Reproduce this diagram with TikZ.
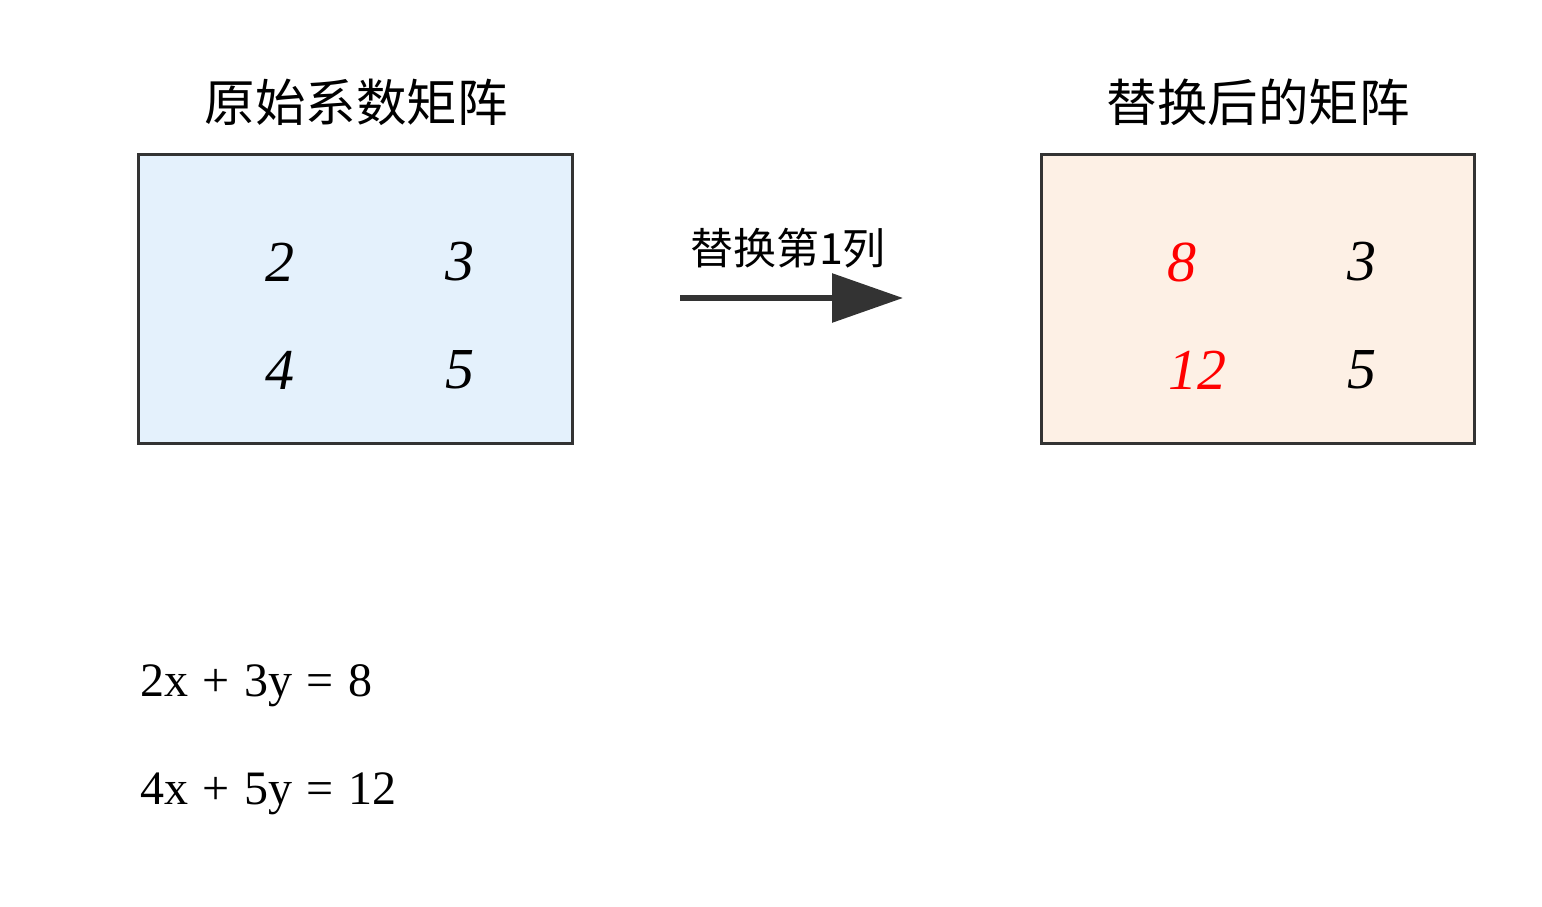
\documentclass[tikz,border=0pt]{standalone}
\usepackage{fontspec}
\setmainfont{Liberation Serif}
\newfontfamily\cjk{Noto Sans CJK SC}
\usetikzlibrary{arrows.meta}
\definecolor{bordergray}{HTML}{333333}
\definecolor{lightblue}{HTML}{E4F1FC}
\definecolor{lightpeach}{HTML}{FDF0E5}
\definecolor{redtext}{HTML}{FF0000}
\newcommand{\eqspacing}{\spaceskip=14.5pt\relax}
\tikzset{
  matbox/.style={draw=bordergray, line width=3pt, inner sep=0pt},
  numtxt/.style={font=\fontsize{58}{60}\selectfont\itshape, inner sep=0pt, anchor=center},
  titletxt/.style={font=\cjk\fontsize{50.5}{52}\selectfont, inner sep=0pt, anchor=center},
  lbltxt/.style={font=\cjk\fontsize{43}{44}\selectfont, inner sep=0pt, anchor=center},
  eqtxt/.style={font=\fontsize{48}{50}\selectfont, inner sep=0pt, anchor=base west},
  bigarrow/.style={draw=bordergray, line width=6pt, -{Triangle[length=71pt,width=48pt]}}
}
\begin{document}
\begin{tikzpicture}[x=1pt,y=-1pt]
\useasboundingbox (0,0) rectangle (1542,907);
% boxes
\node[matbox, fill=lightblue, minimum width=434pt, minimum height=289pt] (left) at (355,298.5) {};
\node[matbox, fill=lightpeach, minimum width=433pt, minimum height=289pt] (right) at (1257.5,298.5) {};
% titles
\node[titletxt] (ltitle) at (356,102) {原始系数矩阵};
\node[titletxt] (rtitle) at (1258,102) {替换后的矩阵};
% left numbers
\node[numtxt] (a11) at (280,262) {2};
\node[numtxt] (a12) at (460,262) {3};
\node[numtxt] (a21) at (280,370) {4};
\node[numtxt] (a22) at (460,370) {5};
% right numbers
\node[numtxt, text=redtext] (b11) at (1182,262) {8};
\node[numtxt] (b12) at (1362,262) {3};
\node[numtxt, text=redtext] (b21) at (1197,370) {12};
\node[numtxt] (b22) at (1362,370) {5};
% arrow
\coordinate (astart) at (680,298);
\coordinate (aend) at (903,298);
\draw[bigarrow] (astart) -- (aend);
\node[lbltxt] (albl) at (788,248) {替换第1列};
% equations
\node[eqtxt] (eq1) at (140,696) {\eqspacing 2x + 3y = 8};
\node[eqtxt] (eq2) at (140,804) {\eqspacing 4x + 5y = 12};
\end{tikzpicture}
\end{document}
